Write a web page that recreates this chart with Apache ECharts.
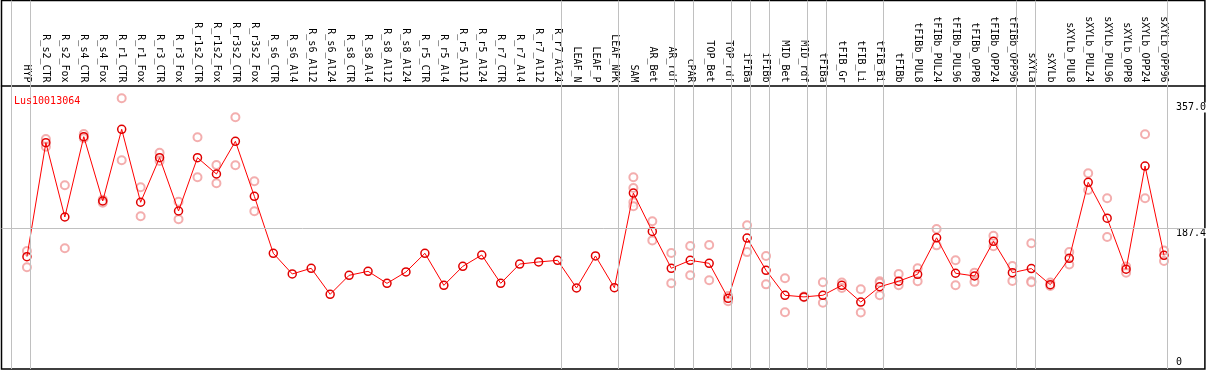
<!DOCTYPE html>
<html>
<head>
<meta charset="utf-8">
<script src="https://cdn.jsdelivr.net/npm/echarts@6/dist/echarts.min.js"></script>
<style>
html,body{margin:0;padding:0;background:#fff;}
#chart{width:1209px;height:370px;}
</style>
</head>
<body>
<div id="chart"></div>
<script>
const categories = ['HYP','R_s2_CTR','R_s2_Fox','R_s4_CTR','R_s4_Fox','R_r1_CTR','R_r1_Fox','R_r3_CTR','R_r3_Fox','R_r1s2_CTR','R_r1s2_Fox','R_r3s2_CTR','R_r3s2_Fox','R_s6_CTR','R_s6_Al4','R_s6_Al12','R_s6_Al24','R_s8_CTR','R_s8_Al4','R_s8_Al12','R_s8_Al24','R_r5_CTR','R_r5_Al4','R_r5_Al12','R_r5_Al24','R_r7_CTR','R_r7_Al4','R_r7_Al12','R_r7_Al24','LEAF_N','LEAF_P','LEAF_NPK','SAM','AR_Bet','AR_rdf','cPAR','TOP_Bet','TOP_rdf','iFIBa','iFIBb','MID_Bet','MID_rdf','tFIBa','tFIB_Gr','tFIB_Li','tFIB_Bi','tFIBb','tFIBb_PUL8','tFIBb_PUL24','tFIBb_PUL96','tFIBb_OPP8','tFIBb_OPP24','tFIBb_OPP96','sXYLa','sXYLb','sXYLb_PUL8','sXYLb_PUL24','sXYLb_PUL96','sXYLb_OPP8','sXYLb_OPP24','sXYLb_OPP96'];

const means = [149.1,302.8,202.6,310.9,224.2,320.9,222.5,282.6,210.7,282.6,260.6,304.7,230.5,
  153.7,125.8,133.5,98.4,124.0,129.4,113.2,128.5,153.7,110.5,136.1,151.4,113.2,139.2,142.0,144.2,
  106.9,150.1,107.3,
  234.9,183.1,133.5,144.2,140.2,93.0,174.2,130.8,97.1,94.9,97.1,110.5,88.0,108.6,116.1,
  125.4,174.6,126.8,123.1,169.8,127.6,133.1,111.4,146.9,249.4,201.0,132.2,271.3,151.0];

const replicates = [
  [156.8,134.8],[307.8,297.4],[245.4,160.4],[314.5,308.7],[226,222],[362.7,279.1],[242.7,203.6],
  [289.3,278.1],[223.3,199.5],[310.1,256.2],[272.7,248.1],[337.1,272.4],[250.8,210.3],
  [],[],[],[],[],[],[],[],[],[],[],[],[],[],[],[],
  [],[],[],
  [256.2,241.8,222.5,217.1],[196.8,171.1],[154.1,113.2],[163.5,124.0],[164.8,117.3],[96,89],
  [191.6,155.3],[150.1,111.8],[120.0,74.2],[95.5,94.5],[114.6,87.1],[114.2,106.9],[105.2,73.8],
  [116,114,97.1],[125.8,110.5],
  [133.5,116.1],[186.5,164.4],[144.2,110.5],[127.6,115.2],[177.4,163.1],[136.5,116.5],
  [167.3,116.1,114.8],[114.2,109.6],[155.3,138.6],[261.6,239.0],[228.0,175.6],[135.8,127.6],
  [314.1,228.0],[157.3,143.2]
];

// index of the last category of each group (-1 = left edge)
const groupEnds = [-1,0,28,31,34,35,37,38,39,41,42,45,52,53,60];
const refValue = 187.4;
const yTicks = [187.4, 357.0];
const yZeroTick = [0];
const geneName = 'Lus10013064';

const MONO = 'DejaVu Sans Mono';
const chart = echarts.init(document.getElementById('chart'));

const meanData = means.map((m,i)=>[i,m]);
const repData = [];
replicates.forEach((r,i)=>r.forEach(v=>repData.push([i,v])));
const sepLines = groupEnds.map(g=>({xAxis: g + 0.18}));

const yCommon = {
  type:'value', min:-2.3, max:494.5, position:'right',
  axisLine:{show:false}, axisTick:{show:false}, splitLine:{show:false}
};

chart.setOption({
  animation:false,
  backgroundColor:'#fff',
  title:{
    text: geneName, left: 9, top: 91,
    textStyle:{color:'#ff0000', fontSize:10, fontFamily:MONO, fontWeight:'normal'}
  },
  grid:{left:1.5, right:1, top:0.5, bottom:1, show:true, borderColor:'#000', borderWidth:1.5, backgroundColor:'transparent'},
  xAxis:{
    type:'value', min:-1.342, max:62.158, position:'top', offset:-85,
    axisLine:{show:true, onZero:false, lineStyle:{color:'#000', width:1.5}},
    axisTick:{show:false}, splitLine:{show:false},
    axisLabel:{
      customValues: categories.map((c,i)=>i),
      formatter: v => categories[Math.round(v)] || '',
      rotate:90, margin:3, color:'#000', fontSize:10, fontFamily:MONO
    }
  },
  yAxis:[
    Object.assign({}, yCommon, {
      axisLabel:{inside:true, customValues:yTicks, formatter:v=>Number(v).toFixed(1),
        align:'left', verticalAlign:'top', margin:31, color:'#000', fontSize:10, fontFamily:MONO,
        backgroundColor:'#fff', padding:[0,0,0,2]}
    }),
    Object.assign({}, yCommon, {
      axisLabel:{inside:true, customValues:yZeroTick, formatter:v=>String(v),
        align:'left', verticalAlign:'bottom', margin:29, color:'#000', fontSize:10, fontFamily:MONO}
    })
  ],
  series:[
    {
      type:'line', data:[], z:1, silent:true,
      markLine:{
        silent:true, symbol:'none', label:{show:false}, animation:false,
        lineStyle:{color:'#c0c0c0', width:1, type:'solid'},
        data: sepLines.concat([{yAxis: refValue}])
      }
    },
    {
      type:'scatter', data:repData, z:3, symbol:'emptyCircle', symbolSize:8,
      itemStyle:{color:'#f09a9a', borderColor:'#f09a9a', borderWidth:1.2}
    },
    {
      type:'line', data:meanData, z:4, symbol:'circle', symbolSize:8,
      lineStyle:{color:'#ff0000', width:1},
      itemStyle:{color:'rgba(0,0,0,0)', borderColor:'#e00000', borderWidth:1.5}
    }
  ]
});
</script>
</body>
</html>
